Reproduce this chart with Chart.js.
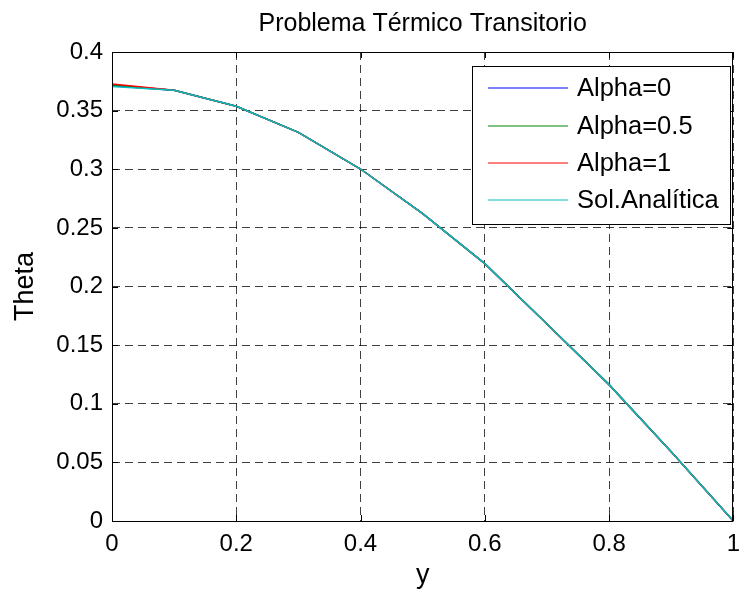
<!DOCTYPE html>
<html>
<head>
<meta charset="utf-8">
<script src="https://cdn.jsdelivr.net/npm/chart.js@4/dist/chart.umd.min.js"></script>
<style>
html,body{margin:0;padding:0;background:#fff;}
canvas{display:block;}
</style>
</head>
<body>
<canvas id="c" width="749" height="590"></canvas>
<script>
// ---- data ----
const yPositions = [0, 0.1, 0.2, 0.3, 0.4, 0.5, 0.6, 0.7, 0.8, 0.9, 1.0];
const alpha0   = [0.3712, 0.3673, 0.3537, 0.3315, 0.3002, 0.2622, 0.2195, 0.1680, 0.1163, 0.0590, 0];
const alpha05  = [0.3718, 0.3673, 0.3537, 0.3315, 0.3002, 0.2622, 0.2195, 0.1680, 0.1163, 0.0590, 0];
const alpha1   = [0.3727, 0.3674, 0.3537, 0.3315, 0.3002, 0.2622, 0.2195, 0.1680, 0.1163, 0.0590, 0];
const analitica= [0.3705, 0.3673, 0.3537, 0.3315, 0.3002, 0.2622, 0.2195, 0.1680, 0.1163, 0.0590, 0];
const seriesNames = ['Alpha=0', 'Alpha=0.5', 'Alpha=1', 'Sol.Analítica'];
const titleText = 'Problema Térmico Transitorio';
const xLabel = 'y';
const yLabel = 'Theta';

const FONT = '"Liberation Sans", Arial, Helvetica, sans-serif';
const pts = arr => yPositions.map((x, i) => ({x: x, y: arr[i]}));
const fmt = v => String(Number(Number(v).toFixed(3)));

const decorations = {
  id: 'decorations',
  afterDraw(chart) {
    const ctx = chart.ctx;
    const a = chart.chartArea;
    const xs = chart.scales.x, ys = chart.scales.y;
    ctx.save();
    // inward ticks on all four sides
    ctx.strokeStyle = '#000';
    ctx.lineWidth = 1;
    const tl = 6;
    ctx.beginPath();
    xs.ticks.forEach(t => {
      const px = Math.round(xs.getPixelForValue(t.value)) + 0.5;
      ctx.moveTo(px, a.bottom); ctx.lineTo(px, a.bottom - tl);
      ctx.moveTo(px, a.top); ctx.lineTo(px, a.top + tl);
    });
    ys.ticks.forEach(t => {
      const py = Math.round(ys.getPixelForValue(t.value)) + 0.5;
      ctx.moveTo(a.left, py); ctx.lineTo(a.left + tl, py);
      ctx.moveTo(a.right, py); ctx.lineTo(a.right - tl, py);
    });
    ctx.stroke();
    // axes box
    ctx.strokeRect(Math.round(a.left) + 0.5, Math.round(a.top) + 0.5,
                   Math.round(a.right - a.left) - 1, Math.round(a.bottom - a.top));
    // title
    ctx.fillStyle = '#000';
    ctx.textAlign = 'center';
    ctx.textBaseline = 'alphabetic';
    ctx.font = '25px ' + FONT;
    ctx.fillText(titleText, (a.left + a.right) / 2, 31);
    // x label
    ctx.font = '27px ' + FONT;
    ctx.fillText(xLabel, (a.left + a.right) / 2, 583);
    // y label
    ctx.save();
    ctx.translate(33, (a.top + a.bottom) / 2);
    ctx.rotate(-Math.PI / 2);
    ctx.fillText(yLabel, 0, 0);
    ctx.restore();
    // legend
    const bx = 472, by = 66, bw = 258, bh = 158;
    ctx.fillStyle = '#fff';
    ctx.fillRect(bx, by, bw, bh);
    ctx.strokeStyle = '#000';
    ctx.lineWidth = 1;
    ctx.strokeRect(bx + 0.5, by + 0.5, bw, bh);
    ctx.font = '25.5px ' + FONT;
    ctx.textAlign = 'left';
    ctx.textBaseline = 'middle';
    const rows = [88, 126, 163, 200];
    chart.data.datasets.forEach((ds, i) => {
      ctx.strokeStyle = ds.borderColor;
      ctx.lineWidth = 1;
      ctx.beginPath();
      ctx.moveTo(488, rows[i]);
      ctx.lineTo(568, rows[i]);
      ctx.stroke();
      ctx.fillStyle = '#000';
      ctx.fillText(ds.label, 577, rows[i] + 1);
    });
    ctx.restore();
  }
};

new Chart(document.getElementById('c'), {
  type: 'line',
  data: {
    datasets: [
      {label: seriesNames[0], data: pts(alpha0), borderColor: '#0000ff', borderWidth: 1.5, order: 3},
      {label: seriesNames[1], data: pts(alpha05), borderColor: '#008000', borderWidth: 1.5, order: 2},
      {label: seriesNames[2], data: pts(alpha1), borderColor: '#ff0000', borderWidth: 1.5, order: 1},
      {label: seriesNames[3], data: pts(analitica), borderColor: '#00bfbf', borderWidth: 1.5, order: 0}
    ]
  },
  options: {
    responsive: false,
    animation: false,
    devicePixelRatio: 1,
    elements: {
      line: {tension: 0, fill: false},
      point: {radius: 0, hoverRadius: 0}
    },
    layout: {padding: {left: 0, top: 52, right: 4, bottom: 0}},
    plugins: {legend: {display: false}, title: {display: false}, tooltip: {enabled: false}},
    scales: {
      x: {
        type: 'linear', min: 0, max: 1,
        afterFit: s => { s.height = 69; },
        ticks: {stepSize: 0.2, color: '#000', padding: 9, maxRotation: 0,
                font: {family: FONT, size: 24}, callback: v => fmt(v)},
        grid: {color: 'rgba(0,0,0,0.75)', lineWidth: 1, drawTicks: false},
        border: {display: false, dash: [8, 5]}
      },
      y: {
        type: 'linear', min: 0, max: 0.4,
        afterFit: s => { s.width = 112; },
        ticks: {stepSize: 0.05, color: '#000', padding: 9,
                font: {family: FONT, size: 24}, callback: v => fmt(v)},
        grid: {color: 'rgba(0,0,0,0.75)', lineWidth: 1, drawTicks: false},
        border: {display: false, dash: [8, 5]}
      }
    }
  },
  plugins: [decorations]
});
</script>
</body>
</html>
